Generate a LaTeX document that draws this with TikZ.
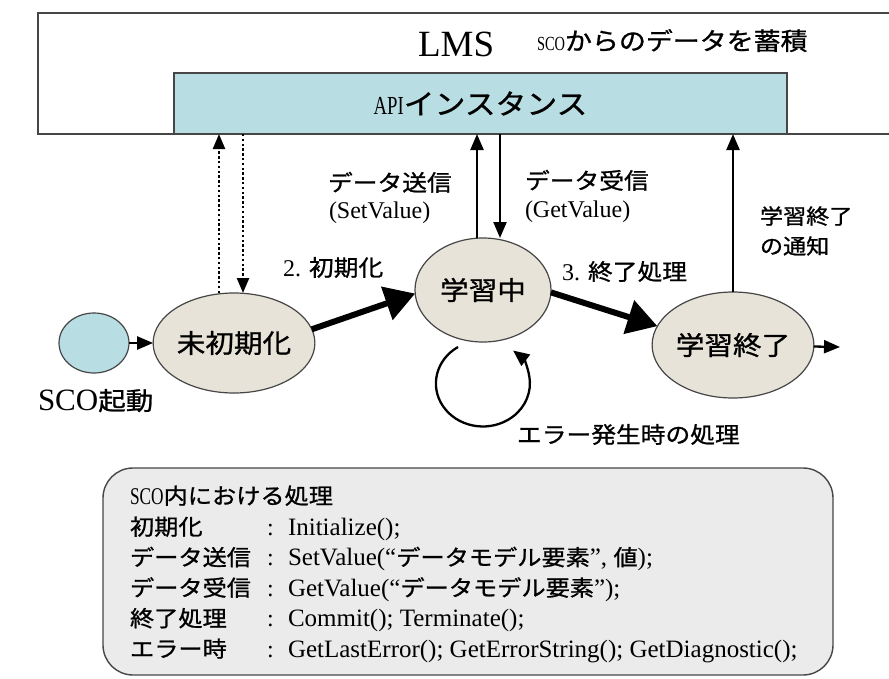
\documentclass[tikz,border=0pt]{standalone}
\usepackage{fontspec}
\setmainfont{Liberation Serif}
\newfontfamily\cond[FakeStretch=0.72]{Liberation Serif}
\newfontfamily\jp[FakeStretch=1.1,FakeBold=1]{Noto Sans CJK JP}
\usetikzlibrary{arrows.meta,shapes.geometric}
\newcommand{\setfs}[1]{\fontsize{#1}{#1}\selectfont}
\definecolor{ellfill}{RGB}{231,227,216}
\definecolor{cyanfill}{RGB}{184,222,227}
\definecolor{infofill}{RGB}{235,235,235}
\definecolor{edgec}{RGB}{70,70,70}
\tikzset{
  panel/.style={draw=edgec, line width=1.4pt, inner sep=0pt, outer sep=0pt},
  state/.style={ellipse, draw=edgec, line width=1.2pt, fill=ellfill, inner sep=0pt, outer sep=0pt, font=\jp\setfs{26}},
  lbl/.style={inner sep=0pt, outer sep=0pt, anchor=base west},
  thinarrow/.style={line width=2.3pt, -{Triangle[length=16pt,width=13pt]}},
  dotarrow/.style={line width=2.4pt, dash pattern=on 2.4pt off 2.4pt, -{Triangle[length=15pt,width=12pt]}},
  thickarrow/.style={line width=6pt, -{Triangle[length=30pt,width=34pt]}},
  looparrow/.style={line width=2.3pt, -{Triangle[length=16pt,width=14pt]}},
  infoline/.style={inner sep=0pt, outer sep=0pt, anchor=base west}
}
\begin{document}
\begin{tikzpicture}[x=1pt,y=-1pt]
\useasboundingbox (0,0) rectangle (889,678);
\fill[white] (0,0) rectangle (889,678);

% LMS panel
\node[panel, fill=white, anchor=north west, minimum width=856pt, minimum height=121pt] (lms) at (38,13) {};
\node[lbl] (lmstitle) at (418,56) {\setfs{37}LMS};
\node[lbl] (lmsnote) at (537,50) {\cond\setfs{20}SCO{\jp\setfs{24.5}からのデータを蓄積}};
\node[panel, fill=cyanfill, anchor=north west, minimum width=613pt, minimum height=61pt] (api) at (174,73) {\cond\setfs{26}API{\jp\setfs{28}インスタンス}};

% states
\node[ellipse, draw=edgec, line width=1.2pt, fill=cyanfill, minimum width=70pt, minimum height=60pt, inner sep=0pt, outer sep=0pt] (start) at (94,343) {};
\node[lbl] (startlbl) at (38,410) {\setfs{31}SCO{\jp\setfs{25}起動}};
\node[state, minimum width=138pt, minimum height=100pt] (uninit) at (234,343) {未初期化};
\node[state, minimum width=136pt, minimum height=104pt] (learn) at (483,290) {学習中};
\node[state, minimum width=136pt, minimum height=106pt] (done) at (733,345) {学習終了};
\coordinate (exit) at (840,347);

% connectors
\draw[thinarrow] (start) -- (uninit);
\draw[thickarrow] (uninit.10) -- (learn.183);
\draw[thickarrow] (learn.-2) -- (done.166);
\draw[thinarrow] (done) -- (exit);

\draw[dotarrow] ([xshift=-15pt]uninit.north) -- ([xshift=-15pt]uninit.north |- lms.south);
\draw[dotarrow] ([xshift=9pt]uninit.north |- lms.south) -- ([xshift=9pt]uninit.north);
\draw[thinarrow] ([xshift=-6pt]learn.north) -- ([xshift=-6pt]learn.north |- lms.south);
\draw[thinarrow] ([xshift=17pt]learn.north |- lms.south) -- ([xshift=17pt]learn.north);
\draw[thinarrow] (done.north) -- (done.north |- lms.south);

\draw[looparrow] ([xshift=-25pt,yshift=-5pt]learn.south) arc[start angle=238, end angle=-50, x radius=47, y radius=43];

% labels
\node[lbl] (sendlbl) at (328,191) {\jp\setfs{22.5}データ送信};
\node[lbl] (sendfn) at (329,218) {\setfs{24}(SetValue)};
\node[lbl] (recvlbl) at (525,189) {\jp\setfs{22.5}データ受信};
\node[lbl] (recvfn) at (525,217) {\setfs{24}(GetValue)};
\node[lbl] (initlbl) at (283,276) {\setfs{24}2. {\jp\setfs{22.5}初期化}};
\node[lbl] (endlbl) at (562,280) {\setfs{24}3. {\jp\setfs{22.5}終了処理}};
\node[lbl] (notif1) at (760,224) {\jp\setfs{21}学習終了};
\node[lbl] (notif2) at (760,254) {\jp\setfs{21}の通知};
\node[lbl] (errlbl) at (517,443) {\jp\setfs{22.5}エラー発生時の処理};

% info box
\node[panel, fill=infofill, rounded corners=30pt, anchor=north west, minimum width=730pt, minimum height=207pt] (info) at (103,468) {};
\node[infoline] (l0) at (130,504) {\cond\setfs{24}SCO{\jp\setfs{22}内における処理}};
\node[infoline] (l1) at (130,535) {\makebox[137pt][l]{\jp\setfs{22}初期化}\makebox[21pt][l]{\setfs{24}:}\setfs{25}Initialize();};
\node[infoline] (l2) at (130,565.5) {\makebox[137pt][l]{\jp\setfs{22}データ送信}\makebox[21pt][l]{\setfs{24}:}\setfs{25}SetValue(“{\jp\setfs{22}データモデル要素}”, {\jp\setfs{22}値});};
\node[infoline] (l3) at (130,596) {\makebox[137pt][l]{\jp\setfs{22}データ受信}\makebox[21pt][l]{\setfs{24}:}\setfs{25}GetValue(“{\jp\setfs{22}データモデル要素}”);};
\node[infoline] (l4) at (130,626.5) {\makebox[137pt][l]{\jp\setfs{22}終了処理}\makebox[21pt][l]{\setfs{24}:}\setfs{25}Commit(); Terminate();};
\node[infoline] (l5) at (130,657) {\makebox[137pt][l]{\jp\setfs{22}エラー時}\makebox[21pt][l]{\setfs{24}:}\setfs{25}GetLastError(); GetErrorString(); GetDiagnostic();};
\end{tikzpicture}
\end{document}
